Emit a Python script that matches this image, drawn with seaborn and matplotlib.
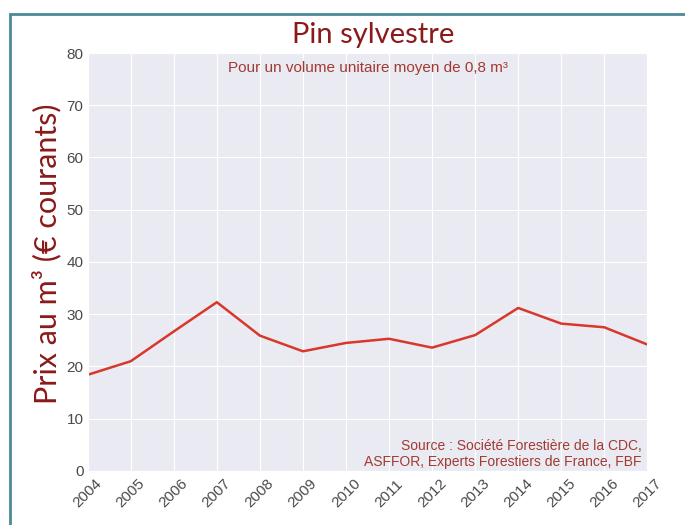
import matplotlib
matplotlib.use("Agg")
import matplotlib.pyplot as plt
import matplotlib.patches as patches
import pandas as pd
import seaborn as sns

# Pin sylvestre, prix au m3
annees = [2004, 2005, 2006, 2007, 2008, 2009, 2010, 2011, 2012, 2013, 2014, 2015, 2016, 2017]
prix = [18.4, 21.0, 26.7, 32.3, 25.9, 22.9, 24.5, 25.3, 23.6, 26.0, 31.2, 28.2, 27.5, 24.2]
y_ticks = [0, 10, 20, 30, 40, 50, 60, 70, 80]

df = pd.DataFrame({"annee": annees, "prix": prix})

sns.set_style("darkgrid")
plt.rcParams["font.family"] = ["Liberation Sans", "DejaVu Sans"]

fig = plt.figure(figsize=(6.85, 5.25), dpi=100)
ax = fig.add_axes([0.128, 0.103, 0.817, 0.796])

sns.lineplot(data=df, x="annee", y="prix", color="#d8382c", linewidth=1.8, ax=ax)

ax.set_xlim(2004, 2017)
ax.set_ylim(0, 80)
ax.set_xticks(annees)
ax.set_yticks(y_ticks)
ax.tick_params(axis="both", colors="#4a4a4a", labelsize=11, length=0, pad=3)
ax.tick_params(axis="x", labelrotation=45, pad=4)
ax.set_xlabel("")
ax.set_ylabel("Prix au m³ (€ courants)", fontsize=22, color="#8b1a1a", family="Lato")
ax.yaxis.set_label_coords(-0.047, 0.52)

fig.text(0.545, 0.933, "Pin sylvestre", fontsize=21, color="#8b1a1a",
         family="Lato", ha="center", va="center")
ax.text(0.5, 0.982, "Pour un volume unitaire moyen de 0,8 m³", transform=ax.transAxes,
        ha="center", va="top", fontsize=11, color="#a23a32")
ax.text(0.99, 0.004, "Source : Société Forestière de la CDC,\nASFFOR, Experts Forestiers de France, FBF",
        transform=ax.transAxes, ha="right", va="bottom", fontsize=10,
        color="#a23a32", linespacing=1.2)

# cadre bleu-vert
fig.patches.append(patches.Rectangle((10 / 685, -0.1), 1.2, 1 - 14 / 525 + 0.1,
                                     transform=fig.transFigure, fill=False,
                                     edgecolor="#4a8a96", linewidth=2))

fig.savefig("out.png", dpi=100)
